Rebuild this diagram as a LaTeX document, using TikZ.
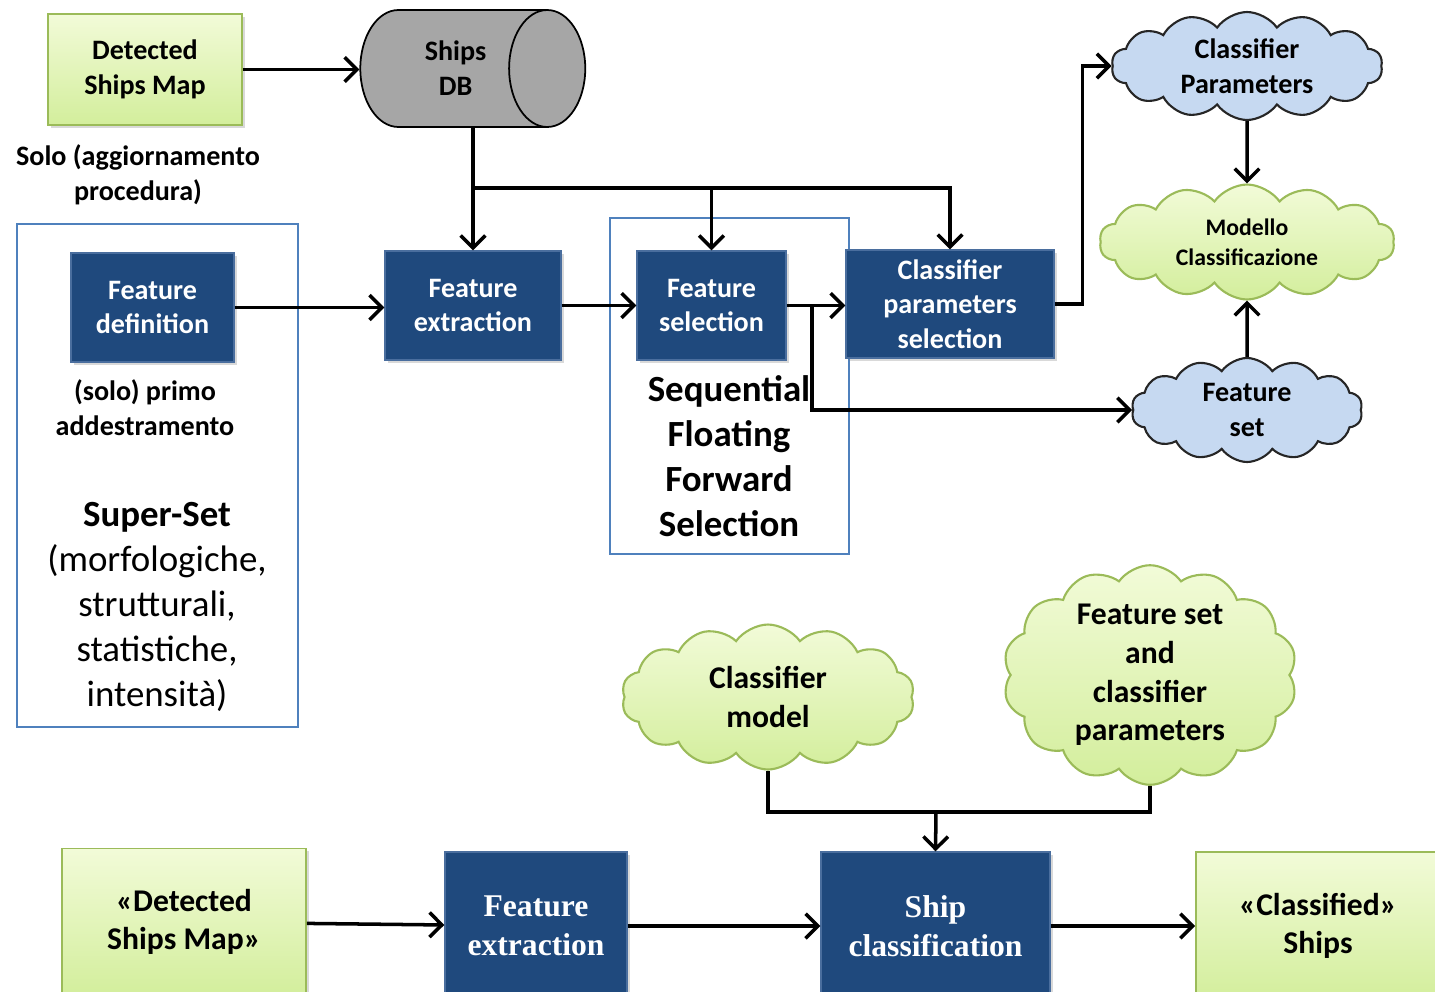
\documentclass[tikz,border=0pt]{standalone}
\usepackage{fontspec}
\setmainfont{Carlito}
\newfontfamily\timesb{Liberation Serif}
\usetikzlibrary{positioning,shapes.geometric,shapes.symbols,arrows.meta,shadows}

\definecolor{bleufonce}{HTML}{1F497D}
\definecolor{bordbleu}{HTML}{4A6E9E}
\definecolor{cadrebleu}{HTML}{4F81BD}
\definecolor{bleuciel}{HTML}{C6D9F1}
\definecolor{vertclair}{HTML}{F2FBD8}
\definecolor{vertfonce}{HTML}{D3EE9C}
\definecolor{bordvert}{HTML}{9BBB59}
\definecolor{grisdb}{HTML}{A6A6A6}

\newcommand{\moyen}{\fontsize{16}{19.8}\selectfont}
\newcommand{\grand}{\fontsize{18}{22}\selectfont}
\newcommand{\enorme}{\fontsize{21}{25.5}\selectfont}

\begin{document}
\begin{tikzpicture}[x=0.02cm,y=-0.02cm,
    fleche/.style={line width=2pt,-{Straight Barb[length=7pt,width=14pt,line width=2pt]}},
    trait/.style={line width=2pt},
    bleubox/.style={rectangle,fill=bleufonce,draw=bordbleu,line width=0.8pt,text=white,align=center,
      font=\moyen\bfseries,drop shadow={opacity=0.3,shadow xshift=1.5pt,shadow yshift=-1.5pt}},
    vertbox/.style={rectangle,top color=vertclair,bottom color=vertfonce,draw=bordvert,line width=1pt,
      align=center,font=\moyen\bfseries,drop shadow={opacity=0.3,shadow xshift=1.5pt,shadow yshift=-1.5pt}},
    nuage/.style={cloud,cloud puffs=14,cloud puff arc=110,cloud ignores aspect,align=center,inner sep=0pt},
    nuagebleu/.style={nuage,fill=bleuciel,draw=black!85,line width=1.2pt,font=\moyen\bfseries},
    nuagevert/.style={nuage,top color=vertclair,bottom color=vertfonce,draw=bordvert,
      line width=1.2pt,font=\moyen\bfseries},
    cadre/.style={draw=cadrebleu,line width=0.8pt}
  ]
  \useasboundingbox (0,0) rectangle (1435,991);

  %cadres
  \draw[cadre] (17,224) rectangle (298,727);
  \draw[cadre] (610,218) rectangle (849,554);

  %partie haute
  \node[vertbox,minimum width=3.88cm,minimum height=2.22cm] (carte) at (145,69.5) {Detected\\Ships Map};
  \node[cylinder,fill=grisdb,draw=black,line width=1pt,aspect=1.15,minimum width=2.34cm,minimum height=4.5cm,
    align=center,font=\moyen\bfseries] (db) at (445,68.5) {\hspace*{12pt}Ships\\\hspace*{12pt}DB};
  \node[font=\moyen\bfseries,align=center] (solo) at (138,175) {Solo (aggiornamento\\procedura)};

  \node[bleubox,minimum width=3.26cm,minimum height=2.18cm] (fdef) at (152.5,307.5) {Feature\\definition};
  \node[bleubox,minimum width=3.52cm,minimum height=2.18cm] (fext) at (473,305.5) {Feature\\extraction};
  \node[bleubox,minimum width=2.98cm,minimum height=2.18cm] (fsel) at (711.5,305.5) {Feature\\selection};
  \node[bleubox,minimum width=4.16cm,minimum height=2.16cm] (cps) at (950,304) {Classifier\\parameters\\selection};

  \node[font=\moyen\bfseries,align=center] (primo) at (145,408) {(solo) primo\\addestramento};
  \node[font=\enorme,align=center] (superset) at (157,607)
    {\textbf{Super-Set}\\(morfologiche,\\strutturali,\\statistiche,\\intensità)};
  \node[font=\enorme\bfseries,align=center] (sffs) at (729,456) {Sequential\\Floating\\Forward\\Selection};

  \node[nuagebleu,minimum width=5.42cm,minimum height=2.16cm] (cpar) at (1247,66) {Classifier\\Parameters};
  \node[nuagevert,minimum width=5.9cm,minimum height=2.3cm,font=\fontsize{13.5}{17}\selectfont\bfseries]
    (modello) at (1247,242) {Modello\\Classificazione};
  \node[nuagebleu,minimum width=4.62cm,minimum height=2.08cm] (fset) at (1247,410) {Feature\\set};

  %fleches haut
  \draw[fleche] (carte.east) -- (carte.east -| db.west);
  \draw[fleche] (db.south -| fext.north) -- (fext.north);
  \coordinate (j1) at (473,188);
  \draw[fleche] (j1) -| (cps.north);
  \draw[fleche] (j1 -| fsel.north) -- (fsel.north);
  \draw[fleche] (fdef.east) -- (fdef.east -| fext.west);
  \draw[fleche] (fext) -- (fsel);
  \draw[fleche] (fsel.east) -- (fsel.east -| cps.west);
  \coordinate (j2) at (812,305.5);
  \draw[fleche] (j2) |- (fset.west);
  \draw[fleche] (cps.east) -- ++(28,0) |- (cpar.west);
  \draw[fleche] (cpar.south) -- (modello.north);
  \draw[fleche] (fset.north) -- (modello.south);

  %partie basse
  \node[nuagevert,minimum width=5.86cm,minimum height=2.9cm,font=\grand\bfseries] (cmod) at (768,697) {Classifier\\model};
  \node[nuagevert,minimum width=5.88cm,minimum height=3.8cm,font=\grand\bfseries] (fscp) at (1150,675)
    {Feature set\\and\\classifier\\parameters};

  \node[vertbox,minimum width=4.88cm,minimum height=2.94cm,font=\grand\bfseries] (det2) at (184,922) {«Detected\\Ships Map»};
  \node[bleubox,minimum width=3.64cm,minimum height=2.96cm,font=\timesb\grand\bfseries] (fext2) at (536,926) {Feature\\extraction};
  \node[bleubox,minimum width=4.58cm,minimum height=2.96cm,font=\timesb\grand\bfseries] (ship) at (935.5,926) {Ship\\classification};
  \node[vertbox,minimum width=4.88cm,minimum height=2.96cm,font=\grand\bfseries] (cls) at (1318,926) {«Classified»\\Ships};

  %fleches bas
  \coordinate (j3) at (936,812);
  \draw[trait] (cmod.south) |- (j3) -| (fscp.south);
  \draw[fleche] (j3) -- (ship.north);
  \draw[fleche] (det2) -- (fext2);
  \draw[fleche] (fext2) -- (ship);
  \draw[fleche] (ship) -- (cls);
\end{tikzpicture}
\end{document}
